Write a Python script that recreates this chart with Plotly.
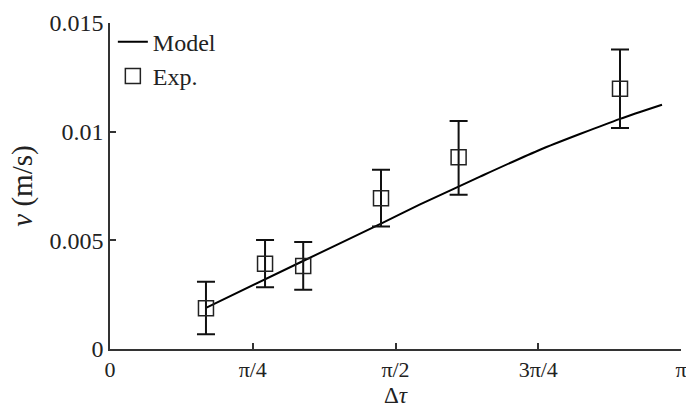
import numpy as np
import plotly.graph_objects as go

# Experimental data (Δτ in rad, v in m/s)
exp_x = [0.528, 0.853, 1.063, 1.491, 1.918, 2.806]
exp_y = [0.00188, 0.00392, 0.00382, 0.00694, 0.00882, 0.01198]
exp_err_plus = [0.00121, 0.00110, 0.00110, 0.00131, 0.00167, 0.00180]
exp_err_minus = [0.00120, 0.00108, 0.00109, 0.00130, 0.00172, 0.00181]

# Model curve
model_x = [0.528, 1.045, 1.491, 1.706, 2.036, 2.366, 2.806, 3.037]
model_y = [0.00189, 0.00398, 0.00577, 0.00665, 0.00793, 0.00917, 0.01059, 0.01124]

tick_vals = [0, np.pi / 4, np.pi / 2, 3 * np.pi / 4, np.pi]
tick_text = ["0", "π/4", "π/2", "3π/4", "π"]
y_ticks = [0, 0.005, 0.01, 0.015]
y_text = ["0", "0.005", "0.01", "0.015"]

font_family = "Liberation Serif, DejaVu Serif, serif"

fig = go.Figure()
fig.add_trace(go.Scatter(
    x=model_x, y=model_y, mode="lines", name="Model",
    line=dict(color="black", width=2, shape="spline", smoothing=0.6),
))
fig.add_trace(go.Scatter(
    x=exp_x, y=exp_y, mode="markers", name="Exp.",
    marker=dict(symbol="square-open", size=15, color="#222",
                line=dict(width=1.5, color="#222")),
    error_y=dict(type="data", symmetric=False, array=exp_err_plus,
                 arrayminus=exp_err_minus, color="#111", thickness=2, width=9),
))

fig.update_layout(
    width=686, height=410,
    margin=dict(l=110, r=5, t=23, b=61, autoexpand=False),
    paper_bgcolor="white", plot_bgcolor="white",
    font=dict(family=font_family, size=24, color="#222"),
    showlegend=True,
    legend=dict(x=0.005, y=1.01, xanchor="left", yanchor="top",
                bgcolor="rgba(0,0,0,0)", font=dict(size=24),
                itemwidth=30, tracegroupgap=0),
    xaxis=dict(range=[0, np.pi], tickvals=tick_vals, ticktext=tick_text,
               showgrid=False, zeroline=False, showline=True,
               linecolor="#333", linewidth=1.5, ticks="inside",
               ticklen=6, tickcolor="#333", tickwidth=1.5,
               ticklabeloverflow="allow", automargin=False,
               tickfont=dict(size=22)),
    yaxis=dict(range=[0, 0.015], tickvals=y_ticks, ticktext=y_text,
               showgrid=False, zeroline=False, showline=True,
               linecolor="#333", linewidth=1.5, ticks="inside",
               ticklen=6, tickcolor="#333", tickwidth=1.5,
               automargin=False,
               title=dict(text="<i>v</i> (m/s)", standoff=8),
               tickfont=dict(size=24)),
    annotations=[dict(
        text="Δ<i>τ</i>", xref="paper", yref="paper", x=0.5, y=-61 / 326,
        xanchor="center", yanchor="bottom", showarrow=False,
        font=dict(size=23, family=font_family, color="#222"),
    )],
)

fig.write_html("out.html")
